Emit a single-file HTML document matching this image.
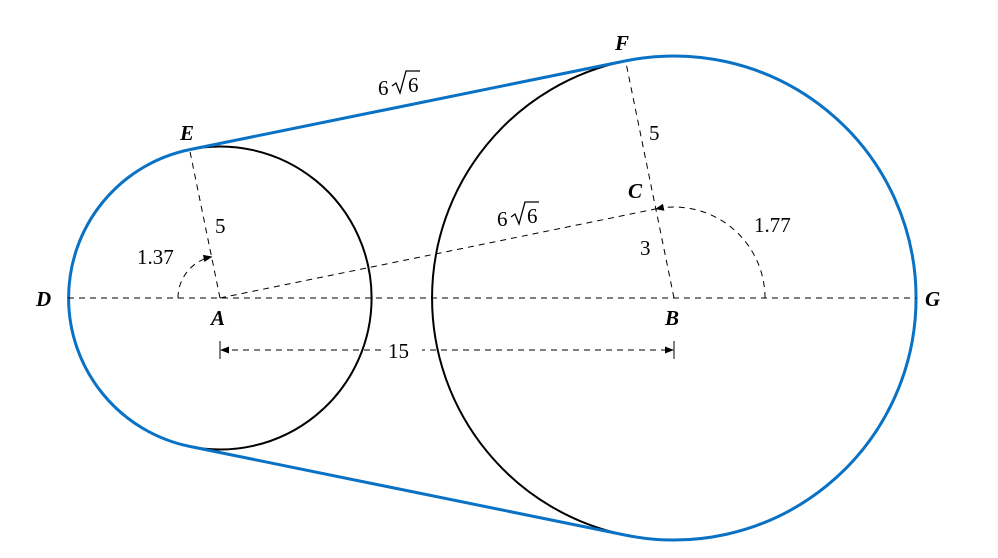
<!DOCTYPE html>
<html><head><meta charset="utf-8"><style>
html,body{margin:0;padding:0;background:#fff;}
svg{display:block;}
text{font-family:"Liberation Serif",serif;font-size:21px;fill:#000;}
.i{font-style:italic;font-weight:bold;}
</style></head><body>
<svg width="998" height="558" viewBox="0 0 998 558" xmlns="http://www.w3.org/2000/svg">
<defs>
<marker id="ar" viewBox="0 0 10 10" refX="9" refY="5" markerWidth="9" markerHeight="9" orient="auto-start-reverse" markerUnits="userSpaceOnUse"><path d="M0,1 L10,5 L0,9 z" fill="#000"/></marker>
</defs>
<g fill="none" stroke="#000" stroke-width="2">
<path d="M189.6,149.6 A151.5,151.5 0 1 1 189.6,446.4"/>
<path d="M625.6,60.9 A242,242 0 0 0 625.6,535.1"/>
</g>
<g fill="none" stroke="#0a72c4" stroke-width="3">
<path d="M189.6,149.6 A151.5,151.5 0 0 0 189.6,446.4"/>
<path d="M625.6,60.9 A242,242 0 1 1 625.6,535.1"/>
<line x1="189.6" y1="149.6" x2="625.6" y2="60.9"/>
<line x1="189.6" y1="446.4" x2="625.6" y2="535.1"/>
</g>
<g fill="none" stroke="#000" stroke-width="1" stroke-dasharray="6,5">
<line x1="68" y1="298" x2="916" y2="298"/>
<line x1="220" y1="298" x2="189.6" y2="149.6"/>
<line x1="674" y1="298" x2="625.6" y2="60.9"/>
<line x1="220" y1="298" x2="655.8" y2="208.9"/>
<line x1="221" y1="350" x2="673" y2="350" marker-start="url(#ar)" marker-end="url(#ar)"/>
<path d="M178,298 A42,42 0 0 1 211.6,256.8" marker-end="url(#ar)"/>
<path d="M765,298 A91,91 0 0 0 655.8,208.9" marker-end="url(#ar)"/>
</g>
<g stroke="#000" stroke-width="1">
<line x1="220" y1="341" x2="220" y2="359"/>
<line x1="674" y1="341" x2="674" y2="359"/>
</g>
<rect x="384" y="338" width="38" height="24" fill="#fff"/>
<text x="388" y="358">15</text>
<text class="i" x="36" y="306">D</text>
<text class="i" x="925" y="306">G</text>
<text class="i" x="211" y="325">A</text>
<text class="i" x="665" y="325">B</text>
<text class="i" x="628" y="198">C</text>
<text class="i" x="180" y="140">E</text>
<text class="i" x="615" y="50">F</text>
<text x="215" y="233">5</text>
<text x="649" y="140">5</text>
<text x="640" y="255">3</text>
<text x="137" y="264">1.37</text>
<text x="754" y="232">1.77</text>
<text x="378" y="95">6</text>
<path d="M392,86 l4,-3 l4,10 l6,-22 h14" fill="none" stroke="#000" stroke-width="1.3"/>
<text x="408" y="92">6</text>
<text x="497" y="226">6</text>
<path d="M511,217 l4,-3 l4,10 l6,-22 h14" fill="none" stroke="#000" stroke-width="1.3"/>
<text x="527" y="223">6</text>
</svg>
</body></html>
